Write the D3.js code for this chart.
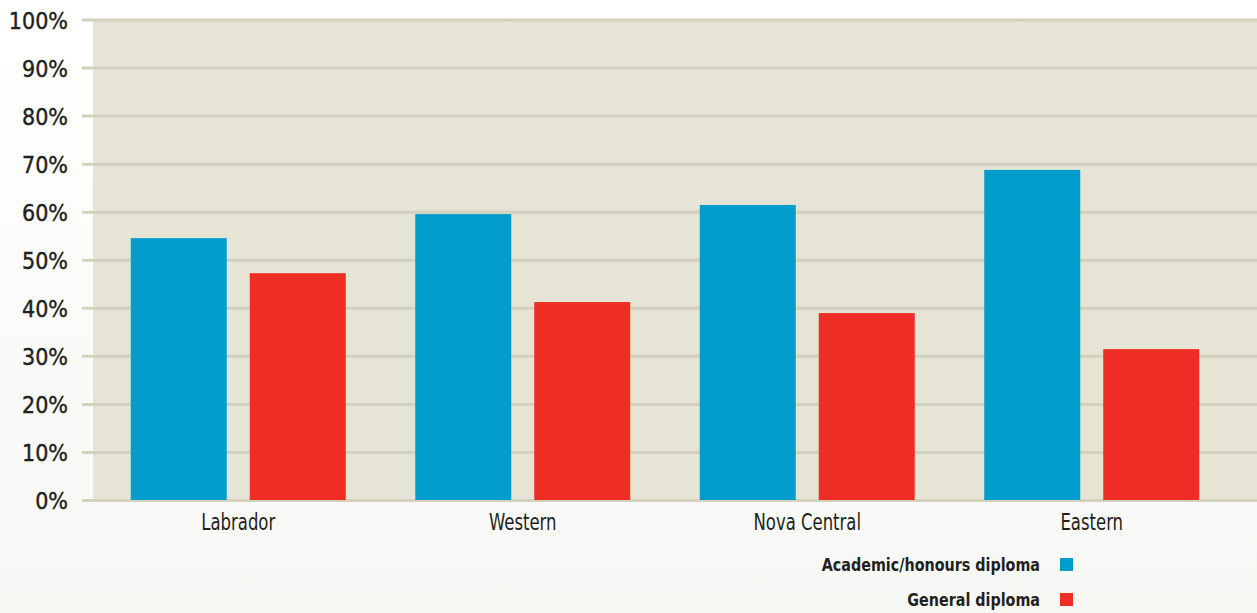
<!DOCTYPE html>
<html>
<head>
<meta charset="utf-8">
<script src="https://cdn.jsdelivr.net/npm/d3@7"></script>
<style>
  html, body { margin: 0; padding: 0; }
  body { width: 1257px; height: 613px; overflow: hidden; }
  svg text { font-family: "DejaVu Sans Condensed", "DejaVu Sans", sans-serif; fill: #231f20; }
</style>
</head>
<body>
<div id="chart-root"></div>
<script>
// data
const regions = ['Labrador', 'Western', 'Nova Central', 'Eastern'];
const seriesNames = ['Academic/honours diploma', 'General diploma'];
const academic = [54.5, 59.5, 61.4, 68.7];
const general = [47.2, 41.2, 38.9, 31.4];
const yTicks = [0, 10, 20, 30, 40, 50, 60, 70, 80, 90, 100];
const colors = ['#009ccb', '#ee2e24'];

const width = 1257, height = 613;
const plotLeft = 93, plotRight = 1257, plotTop = 19.5, plotBottom = 500;

const svg = d3.select('#chart-root')
    .append('svg')
    .attr('width', width)
    .attr('height', height);

// page background, faint fade at the bottom
const grad = svg.append('defs').append('linearGradient')
    .attr('id', 'bg-grad')
    .attr('x1', 0).attr('y1', 0).attr('x2', 0).attr('y2', 1);
grad.append('stop').attr('offset', '0%').attr('stop-color', '#ffffff');
grad.append('stop').attr('offset', '100%').attr('stop-color', '#f7f8f4');
svg.append('rect')
    .attr('width', width).attr('height', height)
    .attr('fill', 'url(#bg-grad)');

const y = d3.scaleLinear().domain([0, 100]).range([plotBottom, plotTop]);
const x0 = d3.scaleBand().domain(regions).range([96, 1234]).padding(0);
const x1 = d3.scaleBand().domain(seriesNames).range([0, 215]).paddingInner(23 / 119);

svg.append('rect')
    .attr('x', plotLeft).attr('y', y(100))
    .attr('width', plotRight - plotLeft).attr('height', y(0) - y(100))
    .attr('fill', '#e6e4d4');

// gridlines + labels via axis
const yAxis = d3.axisLeft(y)
    .tickValues(yTicks)
    .tickSize(-(plotRight - 82))
    .tickFormat(d => d + '%');
const yg = svg.append('g')
    .attr('transform', `translate(${plotRight},0)`)
    .call(yAxis);
yg.select('.domain').remove();
yg.selectAll('.tick line')
    .attr('x1', 82 - plotRight).attr('x2', 0)
    .attr('stroke', '#d4d1c1').attr('stroke-width', 3);
yg.selectAll('.tick text')
    .attr('x', 68 - plotRight)
    .attr('dy', '0.39em')
    .attr('font-size', 23)
    .style('font-family', '"DejaVu Sans Condensed", "DejaVu Sans", sans-serif')
    .attr('fill', '#231f20')
    .attr('stroke', '#231f20')
    .attr('stroke-width', 0.4);

const rows = regions.map((r, i) => ({region: r, values: [academic[i], general[i]]}));

const groups = svg.append('g').selectAll('g')
    .data(rows)
    .join('g')
    .attr('transform', d => `translate(${x0(d.region) + x0.bandwidth() / 2 - 107.5},0)`);

groups.selectAll('rect')
    .data(d => d.values.map((v, j) => ({key: seriesNames[j], value: v, c: colors[j]})))
    .join('rect')
    .attr('x', d => x1(d.key))
    .attr('width', x1.bandwidth())
    .attr('y', d => y(d.value))
    .attr('height', d => y(0) - y(d.value))
    .attr('fill', d => d.c);

// category labels (squeezed to look like the condensed face)
const xAxis = d3.axisBottom(x0).tickSize(0);
const xg = svg.append('g')
    .attr('transform', `translate(0,${plotBottom})`)
    .call(xAxis);
xg.select('.domain').remove();
xg.selectAll('.tick text')
    .attr('y', 30)
    .attr('dy', 0)
    .attr('transform', 'scale(0.78,1)')
    .attr('font-size', 23.5)
    .style('font-family', '"DejaVu Sans Condensed", "DejaVu Sans", sans-serif')
    .attr('fill', '#231f20');

// legend
const legend = svg.append('g').selectAll('g')
    .data(seriesNames)
    .join('g')
    .attr('transform', (d, i) => `translate(0,${564.5 + i * 35})`);
legend.append('text')
    .attr('transform', 'translate(1040,6.5) scale(0.91,1)')
    .attr('text-anchor', 'end')
    .attr('font-size', 17.5)
    .attr('font-weight', 'bold')
    .text(d => d);
legend.append('rect')
    .attr('x', 1060).attr('y', -6.5)
    .attr('width', 13).attr('height', 13)
    .attr('fill', (d, i) => colors[i]);
</script>
</body>
</html>
